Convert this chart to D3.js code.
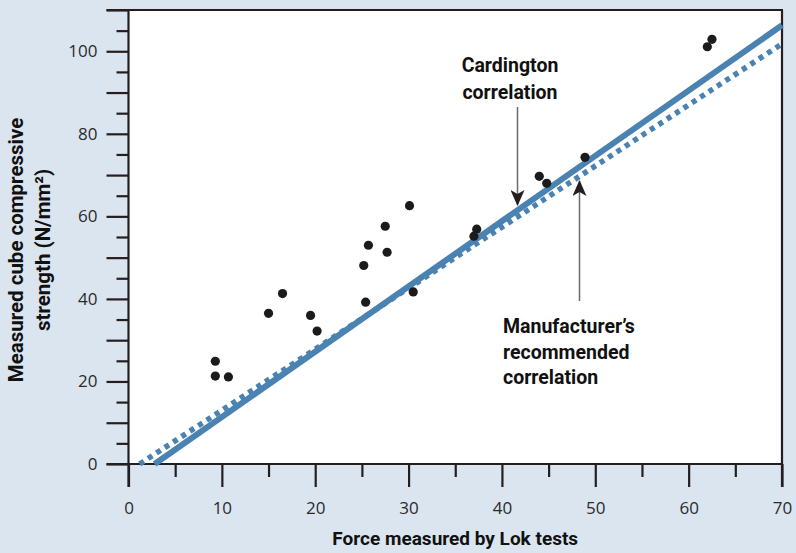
<!DOCTYPE html>
<html>
<head>
<meta charset="utf-8">
<script src="https://cdn.jsdelivr.net/npm/d3@7"></script>
<style>
  html, body { margin: 0; padding: 0; background: #dbe5f0; }
  svg { display: block; }
</style>
</head>
<body>
<svg id="chart" width="796" height="553"></svg>
<script>
// ---- Data ----
const lokForce = [9.3, 9.3, 10.7, 15.0, 16.5, 19.5, 20.2, 25.2, 25.4, 25.7, 27.5, 27.7, 30.1, 30.5, 37.0, 37.3, 44.0, 44.8, 48.9, 62.0, 62.5];
const cubeStrength = [24.9, 21.3, 21.1, 36.5, 41.3, 36.0, 32.2, 48.1, 39.2, 53.0, 57.6, 51.3, 62.6, 41.7, 55.2, 56.9, 69.7, 68.0, 74.3, 101.1, 102.9];
const cardingtonLine = [[2.8, 0], [70, 106.3]];
const manufacturerLine = [[1.2, 0], [70, 101.8]];
const xMajorTicks = [0, 10, 20, 30, 40, 50, 60, 70];
const xMinorTicks = [5, 15, 25, 35, 45, 55, 65];
const yMajorTicks = [0, 10, 20, 30, 40, 50, 60, 70, 80, 90, 100, 110];
const yMinorTicks = [5, 15, 25, 35, 45, 55, 65, 75, 85, 95, 105];
const yLabelTicks = [0, 20, 40, 60, 80, 100];
const xTitle = "Force measured by Lok tests";
const yTitle = ["Measured cube compressive", "strength (N/mm\u00B2)"];
const cardingtonLabel = ["Cardington", "correlation"];
const manufacturerLabel = ["Manufacturer\u2019s", "recommended", "correlation"];

// ---- Layout ----
const svg = d3.select("#chart");
const x = d3.scaleLinear().domain([0, 70]).range([128.5, 782]);
const y = d3.scaleLinear().domain([0, 110]).range([464, 10]);
const ink = "#231f20";
const blue = "#4a83b1";
const tickFont = "'Open Sans', sans-serif";
const boldFont = "Roboto, 'Open Sans', sans-serif";

// plot background
svg.append("rect")
  .attr("x", x(0)).attr("y", y(110))
  .attr("width", x(70) - x(0)).attr("height", y(0) - y(110))
  .attr("fill", "#ffffff");

// Y axis: major + minor
const yAxisMajor = d3.axisLeft(y).tickValues(yMajorTicks).tickSize(22).tickSizeOuter(0).tickPadding(9)
  .tickFormat(d => yLabelTicks.includes(d) ? d : "");
const yAxisMinor = d3.axisLeft(y).tickValues(yMinorTicks).tickSize(12).tickSizeOuter(0).tickFormat("");
const gy = svg.append("g").attr("transform", `translate(${x(0)},0)`).call(yAxisMajor);
svg.append("g").attr("transform", `translate(${x(0)},0)`).call(yAxisMinor).select(".domain").remove();
gy.select(".domain").remove();

// X axis: major + minor
const xAxisMajor = d3.axisBottom(x).tickValues(xMajorTicks).tickSize(23).tickSizeOuter(0).tickPadding(15);
const xAxisMinor = d3.axisBottom(x).tickValues(xMinorTicks).tickSize(13).tickSizeOuter(0).tickFormat("");
const gx = svg.append("g").attr("transform", `translate(0,${y(0)})`).call(xAxisMajor);
svg.append("g").attr("transform", `translate(0,${y(0)})`).call(xAxisMinor).select(".domain").remove();
gx.select(".domain").remove();

svg.selectAll(".tick line").attr("stroke", ink).attr("stroke-width", 2.2);
svg.selectAll(".tick text").attr("fill", "#2a2a2a").style("font-family", tickFont).style("font-size", "17px");

// frame lines
const frame = svg.append("g").attr("stroke", ink).attr("stroke-width", 2.2).attr("fill", "none");
frame.append("line").attr("x1", x(0)).attr("x2", x(0)).attr("y1", y(110) - 1).attr("y2", y(0) + 23);
frame.append("line").attr("x1", x(0) - 22).attr("x2", x(70)).attr("y1", y(0)).attr("y2", y(0));
frame.append("line").attr("x1", x(0) - 22).attr("x2", x(70) + 1).attr("y1", y(110)).attr("y2", y(110));
frame.append("line").attr("x1", x(70)).attr("x2", x(70)).attr("y1", y(110)).attr("y2", y(0) + 23);

// correlation lines
const line = d3.line().x(d => x(d[0])).y(d => y(d[1]));
svg.append("path").datum(manufacturerLine).attr("d", line)
  .attr("fill", "none").attr("stroke", blue).attr("stroke-width", 5.5)
  .attr("stroke-dasharray", "5,5");
svg.append("path").datum(cardingtonLine).attr("d", line)
  .attr("fill", "none").attr("stroke", blue).attr("stroke-width", 6);

// points
svg.append("g").selectAll("circle").data(lokForce.map((v, i) => [v, cubeStrength[i]]))
  .join("circle")
  .attr("cx", d => x(d[0])).attr("cy", d => y(d[1])).attr("r", 4.6)
  .attr("fill", "#1d1a1b");

// arrows
const defs = svg.append("defs");
defs.append("marker").attr("id", "arr").attr("viewBox", "0 0 16 14")
  .attr("refX", 15).attr("refY", 7).attr("markerWidth", 16).attr("markerHeight", 14)
  .attr("markerUnits", "userSpaceOnUse").attr("orient", "auto")
  .append("path").attr("d", "M0,0 L16,7 L0,14 L4,7 Z").attr("fill", ink);

svg.append("line").attr("x1", 517.5).attr("y1", 107).attr("x2", 517.5).attr("y2", 205)
  .attr("stroke", "#6b6b6b").attr("stroke-width", 1.5).attr("marker-end", "url(#arr)");
svg.append("line").attr("x1", 579.5).attr("y1", 301).attr("x2", 579.5).attr("y2", 181)
  .attr("stroke", "#6b6b6b").attr("stroke-width", 1.5).attr("marker-end", "url(#arr)");

// annotation text
const ann = svg.append("g").style("font-family", boldFont).style("font-weight", 700)
  .style("font-size", "19.5px").attr("fill", "#111");
ann.selectAll("text.c").data(cardingtonLabel).join("text").attr("class", "c")
  .attr("x", 510).attr("y", (d, i) => 72 + i * 27).attr("text-anchor", "middle").text(d => d);
ann.selectAll("text.m").data(manufacturerLabel).join("text").attr("class", "m")
  .attr("x", 503).attr("y", (d, i) => 333 + i * 25.5).attr("text-anchor", "start").text(d => d);

// axis titles
svg.append("text").attr("x", x(35)).attr("y", 545).attr("text-anchor", "middle")
  .style("font-family", boldFont).style("font-weight", 700).style("font-size", "19px")
  .attr("fill", "#111").text(xTitle);
const yt = svg.append("text").attr("transform", "translate(0,250) rotate(-90)")
  .attr("text-anchor", "middle")
  .style("font-family", boldFont).style("font-weight", 700).style("font-size", "20.5px")
  .attr("fill", "#111");
yt.selectAll("tspan").data(yTitle).join("tspan")
  .attr("x", 0).attr("y", (d, i) => 23 + i * 27).text(d => d);
</script>
</body>
</html>
